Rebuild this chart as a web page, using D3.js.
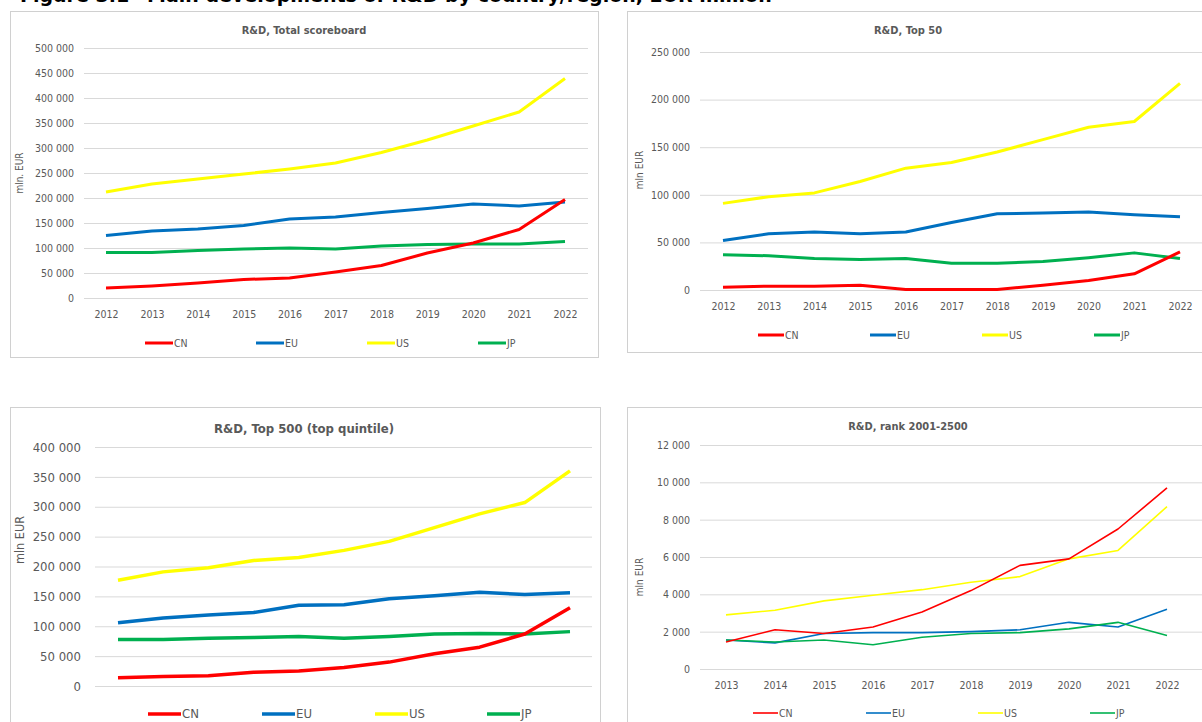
<!DOCTYPE html>
<html>
<head>
<meta charset="utf-8">
<script src="https://cdn.jsdelivr.net/npm/d3@7"></script>
<style>
  body { margin: 0; background: #fff; }
  svg { display: block; font-family: "DejaVu Sans", sans-serif; }
</style>
</head>
<body>
<svg id="chart" width="1202" height="722"></svg>
<script>
// series names and colours
var series = ["CN", "EU", "US", "JP"];
var colors = ["#ff0000", "#0070c0", "#ffff00", "#00b050"];

// years
var years12 = [2012, 2013, 2014, 2015, 2016, 2017, 2018, 2019, 2020, 2021, 2022];
var years13 = [2013, 2014, 2015, 2016, 2017, 2018, 2019, 2020, 2021, 2022];

// R&D, Total scoreboard (mln EUR)
var total_cn = [20000, 24000, 30000, 37000, 40000, 52000, 65000, 90000, 110000, 137000, 197000];
var total_eu = [125000, 134000, 138000, 145000, 158000, 162000, 171000, 179000, 188000, 184000, 192000];
var total_us = [212000, 228000, 238000, 248000, 258000, 270000, 291000, 316000, 344000, 372000, 439000];
var total_jp = [91000, 91000, 95000, 98000, 100000, 98000, 104000, 107000, 108000, 108000, 113000];

// R&D, Top 50
var top50_cn = [3000, 4000, 4000, 5000, 500, 500, 500, 5000, 10000, 17000, 40000];
var top50_eu = [52000, 59000, 61000, 59000, 61000, 71000, 80000, 81000, 82000, 79000, 77000];
var top50_us = [91000, 98000, 102000, 114000, 128000, 134000, 145000, 158000, 171000, 177000, 217000];
var top50_jp = [37000, 36000, 33000, 32000, 33000, 28000, 28000, 30000, 34000, 39000, 33000];

// R&D, Top 500
var top500_cn = [14000, 16000, 17000, 23000, 25000, 31000, 40000, 54000, 65000, 87000, 131000];
var top500_eu = [106000, 114000, 119000, 123000, 135000, 136000, 146000, 151000, 157000, 153000, 156000];
var top500_us = [177000, 191000, 198000, 210000, 215000, 227000, 242000, 265000, 288000, 307000, 360000];
var top500_jp = [78000, 78000, 80000, 81000, 83000, 80000, 83000, 87000, 88000, 87000, 91000];

// R&D, rank 2001-2500
var rank_cn = [1450, 2100, 1900, 2250, 3050, 4200, 5550, 5900, 7500, 9700];
var rank_eu = [1550, 1400, 1900, 1950, 1950, 2000, 2100, 2500, 2250, 3200];
var rank_us = [2900, 3150, 3650, 3950, 4250, 4650, 4950, 5900, 6350, 8700];
var rank_jp = [1550, 1450, 1550, 1300, 1700, 1900, 1950, 2150, 2500, 1800];

var svg = d3.select("#chart");
var grey = "#595959";
var fmt = d3.formatLocale({ decimal: ",", thousands: " ", grouping: [3], currency: ["", ""] }).format(",");

// figure title, cut at the top of the picture
svg.append("text").attr("x", 20).attr("y", 2)
    .style("font-size", "19px").style("font-weight", "bold").attr("fill", "#000")
    .text("Figure 3.1");
svg.append("text").attr("x", 147).attr("y", 2)
    .style("font-size", "19px").style("font-weight", "bold").attr("fill", "#000")
    .text("Main developments of R&D by country/region, EUR million");

function drawPanel(p) {
    var g = svg.append("g");

    g.append("rect")
        .attr("x", p.box[0] + 0.5).attr("y", p.box[1] + 0.5)
        .attr("width", p.box[2] - p.box[0]).attr("height", p.box[3] - p.box[1])
        .attr("fill", "#fff").attr("stroke", "#d0d0d0");

    var x = d3.scalePoint().domain(p.years).range([p.x0, p.x1]);
    var y = d3.scaleLinear().domain([0, p.ymax]).range([p.y0, p.y1]);

    // gridlines
    var yAxis = d3.axisLeft(y).tickValues(d3.range(0, p.ymax + 1, p.step))
        .tickSize(-(p.g1 - p.g0)).tickPadding(p.pad).tickFormat(fmt);
    var ya = g.append("g").attr("transform", "translate(" + p.g0 + ",0)").call(yAxis);
    ya.select(".domain").remove();
    ya.selectAll("line").attr("stroke", "#d9d9d9");
    ya.selectAll("text").attr("fill", grey).style("font-size", p.tickSize + "px")
        .style("font-family", "'DejaVu Sans Condensed', 'DejaVu Sans', sans-serif");

    if (p.showX) {
        var xAxis = d3.axisBottom(x).tickSize(0).tickPadding(p.xPad);
        var xa = g.append("g").attr("transform", "translate(0," + p.y0 + ")").call(xAxis);
        xa.select(".domain").remove();
        xa.selectAll("text").attr("fill", grey).style("font-size", p.tickSize + "px")
            .style("font-family", "'DejaVu Sans Condensed', 'DejaVu Sans', sans-serif");
    }

    g.append("text")
        .attr("x", p.titleX).attr("y", p.titleY)
        .attr("text-anchor", "middle").attr("fill", grey)
        .style("font-size", p.titleSize + "px").style("font-weight", "bold")
        .style("font-family", "'DejaVu Sans Condensed', 'DejaVu Sans', sans-serif")
        .text(p.title);

    g.append("text")
        .attr("transform", "translate(" + p.labelX + "," + p.labelY + ") rotate(-90)")
        .attr("text-anchor", "middle").attr("fill", grey)
        .style("font-size", p.labelSize + "px")
        .style("font-family", "'DejaVu Sans Condensed', 'DejaVu Sans', sans-serif")
        .text(p.ylabel);

    var line = d3.line()
        .x(function (d, i) { return x(p.years[i]); })
        .y(function (d) { return y(d); });

    // draw US, EU, JP, CN in this order so red ends on top like the original
    [2, 1, 3, 0].forEach(function (k) {
        g.append("path")
            .datum(p.data[k])
            .attr("d", line)
            .attr("fill", "none")
            .attr("stroke", colors[k])
            .attr("stroke-width", p.lw)
            .attr("stroke-linejoin", "round");
    });

    // legend
    series.forEach(function (s, i) {
        var lx = p.legX[i];
        g.append("line")
            .attr("x1", lx).attr("x2", lx + p.legLen)
            .attr("y1", p.legY).attr("y2", p.legY)
            .attr("stroke", colors[i]).attr("stroke-width", p.lw);
        g.append("text")
            .attr("x", lx + p.legLen + 1).attr("y", p.legY + 4)
            .attr("fill", grey).style("font-size", p.legSize + "px")
            .style("font-family", "'DejaVu Sans Condensed', 'DejaVu Sans', sans-serif")
            .text(s);
    });
}

drawPanel({
    title: "R&D, Total scoreboard", titleX: 304, titleY: 34, titleSize: 11,
    box: [10, 11, 598, 357], years: years12,
    data: [total_cn, total_eu, total_us, total_jp],
    ymax: 500000, step: 50000, y0: 298, y1: 48,
    x0: 106, x1: 565, g0: 84, g1: 588, pad: 10, xPad: 13,
    tickSize: 10.5, showX: true,
    ylabel: "mln. EUR", labelX: 23, labelY: 173, labelSize: 10,
    lw: 3, legX: [145, 256, 367, 478], legLen: 28, legY: 343, legSize: 10.5
});

drawPanel({
    title: "R&D, Top 50", titleX: 908, titleY: 34, titleSize: 11,
    box: [627, 11, 1210, 352], years: years12,
    data: [top50_cn, top50_eu, top50_us, top50_jp],
    ymax: 250000, step: 50000, y0: 290, y1: 52,
    x0: 723, x1: 1180, g0: 700, g1: 1202, pad: 10, xPad: 13,
    tickSize: 10.5, showX: true,
    ylabel: "mln EUR", labelX: 643, labelY: 170, labelSize: 10,
    lw: 3, legX: [758, 870, 982, 1094], legLen: 26, legY: 335, legSize: 10.5
});

drawPanel({
    title: "R&D, Top 500 (top quintile)", titleX: 304, titleY: 433, titleSize: 13,
    box: [10, 407, 600, 730], years: years12,
    data: [top500_cn, top500_eu, top500_us, top500_jp],
    ymax: 400000, step: 50000, y0: 686, y1: 447,
    x0: 118, x1: 570, g0: 95, g1: 592, pad: 14, xPad: 13,
    tickSize: 13, showX: false,
    ylabel: "mln EUR", labelX: 24, labelY: 540, labelSize: 12.5,
    lw: 3.5, legX: [148, 262, 375, 487], legLen: 33, legY: 714, legSize: 13
});

drawPanel({
    title: "R&D, rank 2001-2500", titleX: 908, titleY: 430, titleSize: 11,
    box: [627, 407, 1210, 730], years: years13,
    data: [rank_cn, rank_eu, rank_us, rank_jp],
    ymax: 12000, step: 2000, y0: 669, y1: 445,
    x0: 726, x1: 1167, g0: 700, g1: 1202, pad: 10, xPad: 13,
    tickSize: 10.5, showX: true,
    ylabel: "mln EUR", labelX: 643, labelY: 577, labelSize: 10,
    lw: 1.6, legX: [753, 866, 978, 1090], legLen: 25, legY: 713, legSize: 10.5
});
</script>
</body>
</html>
